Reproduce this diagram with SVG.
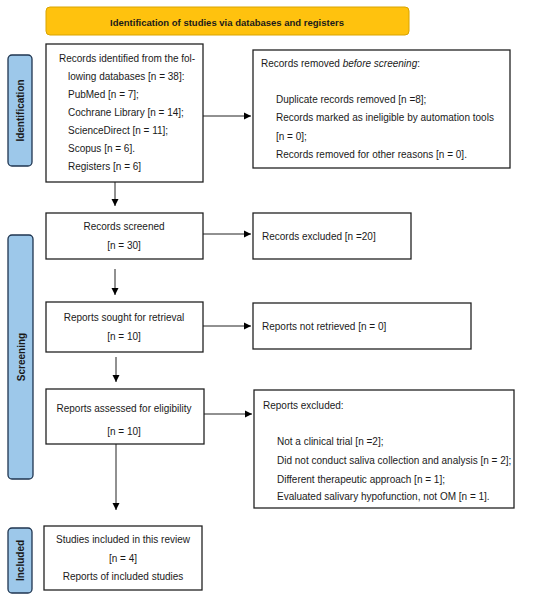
<svg xmlns="http://www.w3.org/2000/svg" width="550" height="604" viewBox="0 0 550 604">
<defs>
<marker id="ah" markerWidth="8" markerHeight="8" refX="7" refY="4" orient="auto" markerUnits="userSpaceOnUse">
<path d="M0,0.5 L7,4 L0,7.5 Z" fill="#000"/>
</marker>
<style>
text{font-family:"Liberation Sans",Arial,sans-serif;font-size:10px;fill:#1a1a1a}
.box{fill:#fff;stroke:#222;stroke-width:1.3}
.side{fill:#9DC8EA;stroke:#1F3550;stroke-width:1.3}
.sl{font-weight:bold;font-size:10px;text-anchor:middle}
.c{text-anchor:middle}
.ln{stroke:#222;stroke-width:1;fill:none}
</style>
</defs>
<rect width="550" height="604" fill="#fff"/>
<g id="title">
<rect x="46" y="7" width="363" height="28" rx="4" fill="#FFC20E" stroke="#D9A400" stroke-width="1"/>
<text x="227" y="25.5" class="c" style="font-weight:bold;font-size:9.5px">Identification of studies via databases and registers</text>
</g>
<g id="side-identification">
<rect x="8" y="55" width="24" height="111" rx="4" class="side"/>
<text class="sl" transform="translate(24,110.5) rotate(-90)">Identification</text>
</g>
<g id="side-screening">
<rect x="8" y="235" width="25" height="244" rx="4" class="side"/>
<text class="sl" transform="translate(24.5,357) rotate(-90)">Screening</text>
</g>
<g id="side-included">
<rect x="8" y="528" width="24" height="65" rx="4" class="side"/>
<text class="sl" transform="translate(24,560.5) rotate(-90)">Included</text>
</g>
<g id="records-identified">
<rect x="46" y="44" width="157" height="138" class="box"/>
<text x="59" y="62">Records identified from the fol-</text>
<text x="68" y="80">lowing databases [n = 38]:</text>
<text x="68" y="98">PubMed [n = 7];</text>
<text x="68" y="116">Cochrane Library [n = 14];</text>
<text x="68" y="134">ScienceDirect [n = 11];</text>
<text x="68" y="152">Scopus [n = 6].</text>
<text x="68" y="170">Registers [n = 6]</text>
</g>
<g id="records-removed">
<rect x="253" y="50" width="257" height="118" class="box"/>
<text x="261" y="67">Records removed <tspan font-style="italic">before screening</tspan>:</text>
<text x="276" y="103">Duplicate records removed [n =8];</text>
<text x="276" y="121">Records marked as ineligible by automation tools</text>
<text x="276" y="140">[n = 0];</text>
<text x="276" y="158">Records removed for other reasons [n = 0].</text>
</g>
<g id="records-screened">
<rect x="46" y="213" width="157" height="46" class="box"/>
<text x="124" y="230" class="c">Records screened</text>
<text x="124" y="249" class="c">[n = 30]</text>
</g>
<g id="records-excluded">
<rect x="253" y="213" width="158" height="46" class="box"/>
<text x="262" y="240">Records excluded [n =20]</text>
</g>
<g id="reports-sought">
<rect x="46" y="302" width="157" height="50" class="box"/>
<text x="124" y="321" class="c">Reports sought for retrieval</text>
<text x="124" y="340" class="c">[n = 10]</text>
</g>
<g id="reports-not-retrieved">
<rect x="253" y="303" width="218" height="46" class="box"/>
<text x="262" y="330">Reports not retrieved [n = 0]</text>
</g>
<g id="reports-assessed">
<rect x="46" y="389" width="158" height="55" class="box"/>
<text x="124" y="412" class="c">Reports assessed for eligibility</text>
<text x="124" y="435" class="c">[n = 10]</text>
</g>
<g id="reports-excluded">
<rect x="254" y="390" width="260" height="118" class="box"/>
<text x="263" y="409">Reports excluded:</text>
<text x="277" y="445">Not a clinical trial [n =2];</text>
<text x="277" y="464">Did not conduct saliva collection and analysis [n = 2];</text>
<text x="277" y="483">Different therapeutic approach [n = 1];</text>
<text x="277" y="500">Evaluated salivary hypofunction, not OM [n = 1].</text>
</g>
<g id="studies-included">
<rect x="44" y="526" width="158" height="64" class="box"/>
<text x="123" y="543" class="c">Studies included in this review</text>
<text x="123" y="562" class="c">[n = 4]</text>
<text x="123" y="580" class="c">Reports of included studies</text>
</g>
<g id="connectors">
<line x1="203" y1="116" x2="251" y2="116" class="ln" marker-end="url(#ah)"/>
<line x1="115" y1="182" x2="115" y2="206" class="ln" marker-end="url(#ah)"/>
<line x1="203" y1="234" x2="251" y2="234" class="ln" marker-end="url(#ah)"/>
<line x1="115" y1="269" x2="115" y2="295" class="ln" marker-end="url(#ah)"/>
<line x1="203" y1="326" x2="251" y2="326" class="ln" marker-end="url(#ah)"/>
<line x1="116" y1="357" x2="116" y2="382" class="ln" marker-end="url(#ah)"/>
<line x1="204" y1="414" x2="252" y2="414" class="ln" marker-end="url(#ah)"/>
<line x1="116" y1="444" x2="116" y2="510" class="ln" marker-end="url(#ah)"/>
</g>
</svg>
